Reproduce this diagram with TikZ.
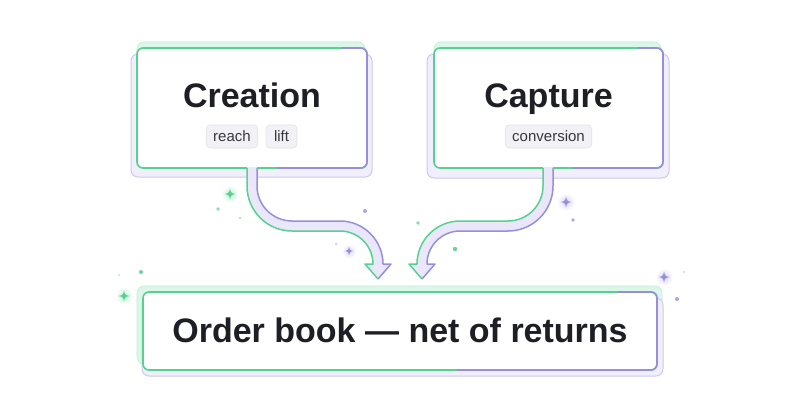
\documentclass[tikz,border=0pt]{standalone}
\usepackage{fontspec}
\setmainfont{Liberation Sans}
\usetikzlibrary{calc,backgrounds}
\definecolor{gr}{RGB}{84,210,142}
\definecolor{pu}{RGB}{152,142,222}
\definecolor{lav}{RGB}{234,231,250}
\definecolor{glowg}{RGB}{220,247,233}
\definecolor{glowgd}{RGB}{190,238,212}
\definecolor{shp}{RGB}{241,239,251}
\definecolor{shpd}{RGB}{206,201,240}
\definecolor{ink}{RGB}{30,31,36}
\definecolor{pillf}{RGB}{242,242,246}
\definecolor{pilld}{RGB}{226,226,233}
\definecolor{pillt}{RGB}{55,56,62}
\begin{document}
\begin{tikzpicture}[x=1pt,y=-1pt,
  mainbox/.style={draw=gr, line width=1.6pt, fill=white, rounded corners=6pt, inner sep=0pt, outer sep=0pt},
  purpleedge/.style={draw=pu, line width=1.6pt, rounded corners=6pt},
  glowbox/.style={fill=glowg, draw=glowgd, line width=0.6pt, rounded corners=7pt},
  shadowbox/.style={fill=shp, draw=shpd, line width=1pt, rounded corners=7pt},
  title/.style={font=\fontsize{34}{40}\selectfont\bfseries, text=ink, inner sep=0pt, anchor=base},
  pill/.style={draw=pilld, fill=pillf, rounded corners=4pt, line width=0.6pt, font=\fontsize{15}{18}\selectfont, text=pillt, minimum height=23pt, inner xsep=7pt, inner ysep=0pt},
  band/.style={draw=lav, line width=10pt},
  gedge/.style={draw=gr, line width=1.5pt, line join=round},
  pedge/.style={draw=pu, line width=1.5pt, line join=round},
  pics/sparkle/.style={code={
    \shade[inner color=#1!35, outer color=white] (0,0) circle (9);
    \fill[#1] (0,-5.5) .. controls (1,-1) .. (5.5,0) .. controls (1,1) .. (0,5.5) .. controls (-1,1) .. (-5.5,0) .. controls (-1,-1) .. (0,-5.5);}},
  dot/.style={fill=#1, draw=none}
]
\useasboundingbox (0,0) rectangle (800,420);

% main boxes
\node[mainbox, minimum width=230pt, minimum height=120pt] (cr) at (252,108) {};
\node[mainbox, minimum width=229pt, minimum height=120pt] (ca) at (548.5,108) {};
\node[mainbox, minimum width=514pt, minimum height=78pt] (ob) at (400,331) {};

\begin{pgfonlayer}{background}
  \fill[white] (0,0) rectangle (800,420);
  \draw[glowbox] ($(cr.north west)+(0,-6)$) rectangle ($(cr.south east)+(-2,-8)$);
  \draw[shadowbox] ($(cr.north west)+(-6,6)$) rectangle ($(cr.south east)+(5,9)$);
  \draw[glowbox] ($(ca.north west)+(0,-6)$) rectangle ($(ca.south east)+(-2,-8)$);
  \draw[shadowbox] ($(ca.north west)+(-7,6)$) rectangle ($(ca.south east)+(6,10)$);
  \draw[glowbox] ($(ob.north west)+(-6,-6)$) rectangle ($(ob.south east)+(5,-6)$);
  \draw[shadowbox] ($(ob.north west)+(-1,6)$) rectangle ($(ob.south east)+(6,6)$);
\end{pgfonlayer}

\draw[purpleedge] ($(cr.north east)+(-25,0)$) -- (cr.north east) -- (cr.south east) -- ($(cr.south east)+(-90,0)$);
\draw[purpleedge] ($(ca.north east)+(-25,0)$) -- (ca.north east) -- (ca.south east) -- ($(ca.south east)+(-90,0)$);
\draw[purpleedge] ($(ob.north east)+(-40,0)$) -- (ob.north east) -- (ob.south east) -- ($(ob.south east)+(-200,0)$);

% texts
\node[title] (crt) at (252,107) {Creation};
\node[title] (cat) at (548.5,107) {Capture};
\node[title] (obt) at (400,342) {Order book — net of returns};
\node[pill] (p1) at (232,136.5) {reach};
\node[pill, minimum width=31pt, inner xsep=0pt] (p2) at (281.5,136.5) {lift};
\node[pill] (p3) at (548.5,136.5) {conversion};

% connector coordinates
\coordinate (tipL) at (378,279);
\coordinate (tipR) at (422,279);

% left arrow
\draw[band] ($(cr.south)+(0,-1)$) -- (252,186) .. controls (252,208.1) and (269.9,226) .. (292,226) -- (340,226) .. controls (361,226) and (378,243) .. (378,265);
\fill[lav] (365,264) -- (tipL) -- (391,264) -- cycle;
\draw[gedge] ($(cr.south)+(-5,0)$) -- (247,186) .. controls (247,210.9) and (267.1,231) .. (292,231) -- (340,231) .. controls (358.2,231) and (373,245.8) .. (373,264) -- (365,264) -- (tipL);
\draw[pedge] ($(cr.south)+(5,0)$) -- (257,186) .. controls (257,205.3) and (272.7,221) .. (292,221) -- (340,221) .. controls (363.7,221) and (383,240.3) .. (383,264) -- (391,264) -- (tipL);

% right arrow
\draw[band] ($(ca.south)+(-0.5,-1)$) -- (548,186) .. controls (548,208.1) and (530.1,226) .. (508,226) -- (460,226) .. controls (439,226) and (422,243) .. (422,265);
\fill[lav] (409,264) -- (tipR) -- (435,264) -- cycle;
\draw[gedge] ($(ca.south)+(-5.5,0)$) -- (543,186) .. controls (543,205.3) and (527.3,221) .. (508,221) -- (460,221) .. controls (436.3,221) and (417,240.3) .. (417,264) -- (409,264) -- (tipR);
\draw[pedge] ($(ca.south)+(4.5,0)$) -- (553,186) .. controls (553,210.9) and (532.9,231) .. (508,231) -- (460,231) .. controls (441.8,231) and (427,245.8) .. (427,264) -- (435,264) -- (tipR);

% sparkles and dots
\pic at (230,194) {sparkle=gr};
\fill[dot=gr!70] (218,209) circle (1.8);
\fill[dot=gr!50] (240,218) circle (1.3);
\fill[dot=pu!80] (365,211) circle (2);
\pic[scale=0.8] at (349,251) {sparkle=pu};
\fill[dot=pu!40] (336,244) circle (1.5);
\fill[dot=gr!70] (418,223) circle (1.8);
\fill[dot=gr!90] (455,249) circle (2.2);
\pic at (566,202) {sparkle=pu};
\fill[dot=pu!80] (573,220) circle (1.8);
\pic at (664,277) {sparkle=pu};
\fill[dot=pu!40] (684,272) circle (1.2);
\fill[dot=pu!80] (677,299) circle (2);
\pic at (124,296) {sparkle=gr};
\fill[dot=gr!90] (141,272) circle (2);
\fill[dot=gr!40] (119,275) circle (1.2);
\end{tikzpicture}
\end{document}
